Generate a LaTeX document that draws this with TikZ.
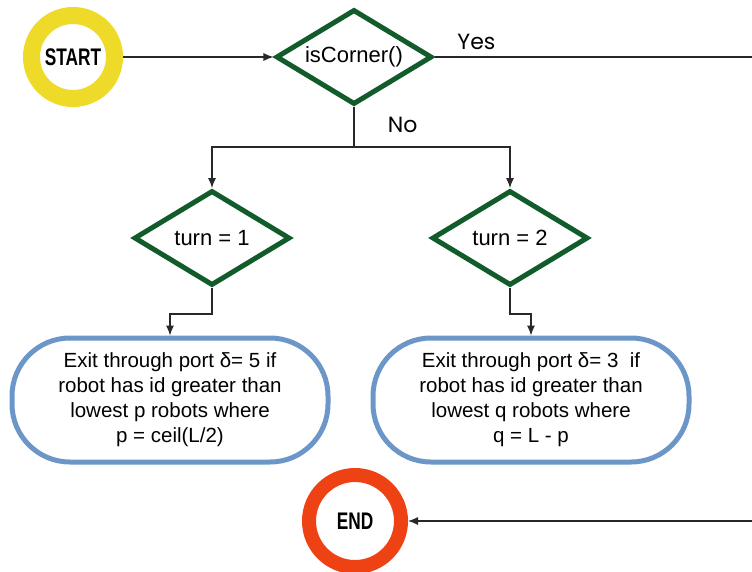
\documentclass[tikz,border=0pt]{standalone}
\usepackage{fontspec}
\setmainfont{Liberation Sans}
\newfontfamily\tallfont[FakeStretch=0.72]{Liberation Sans}
\newfontfamily\labelfont{Poppins}
\usetikzlibrary{shapes.geometric,arrows.meta}
\definecolor{ringyellow}{RGB}{238,218,40}
\definecolor{ringred}{RGB}{238,66,20}
\definecolor{decgreen}{RGB}{18,92,44}
\definecolor{boxblue}{RGB}{108,150,200}
\definecolor{flowgray}{RGB}{40,40,40}
\tikzset{
  terminal/.style={circle, line width=17pt, minimum size=83pt, inner sep=0pt,
    font=\tallfont\bfseries\fontsize{24}{26}\selectfont},
  decision/.style={diamond, aspect=1.65, draw=decgreen, line width=5pt, minimum width=156pt,
    minimum height=95pt, inner sep=0pt, font=\fontsize{22}{24}\selectfont},
  action/.style={rectangle, rounded corners=58pt, draw=boxblue, line width=5pt,
    minimum width=316pt, minimum height=124pt, align=center,
    font=\fontsize{20.5}{25}\selectfont},
  flow/.style={draw=flowgray, line width=1.1pt},
  tip/.style={-{Latex[length=10pt,width=8pt]}},
  answer/.style={font=\labelfont\fontsize{22}{24}\selectfont}
}
\begin{document}
\begin{tikzpicture}[x=1pt,y=-1pt]
\useasboundingbox (0,0) rectangle (752,571);

% start and end
\node[terminal, draw=ringyellow] (start) at (73,57) {START};
\node[terminal, draw=ringred, minimum size=92pt, line width=14pt] (end) at (355,521) {END};

% decisions
\node[decision] (iscorner) at (354,57) {isCorner()};
\node[decision] (turnone) at (212,238) {turn = 1};
\node[decision] (turntwo) at (510,238) {turn = 2};

% actions
\node[action] (boxone) at (170,400) {
  Exit through port δ= 5 if\\
  robot has id greater than\\
  lowest p robots where\\
  p = ceil(L/2)
};
\node[action] (boxtwo) at (531,400) {
  Exit through port δ= 3\ \ if\\
  robot has id greater than\\
  lowest q robots where\\
  q = L - p
};

% free ends and split point
\coordinate (split) at (354,147);
\coordinate (yesend) at (752,57);
\coordinate (endin) at (752,521);

% draw connectors
\draw[flow,tip] (start) -- (iscorner);
\draw[flow] (iscorner.east) -- (yesend) node[answer, pos=0.06, anchor=south west, yshift=3pt] {Yes};
\draw[flow] (iscorner.south) -- (split) node[answer, pos=0.45, right=30pt] {No};
\draw[flow,tip] (split) -| (turnone.north);
\draw[flow,tip] (split) -| (turntwo.north);
\draw[flow,tip] (turnone.south) -- ++(0,26) -| (boxone.north);
\draw[flow,tip] (turntwo.south) -- ++(0,26) -| (boxtwo.north);
\draw[flow,tip] (endin) -- (end);
\end{tikzpicture}
\end{document}
